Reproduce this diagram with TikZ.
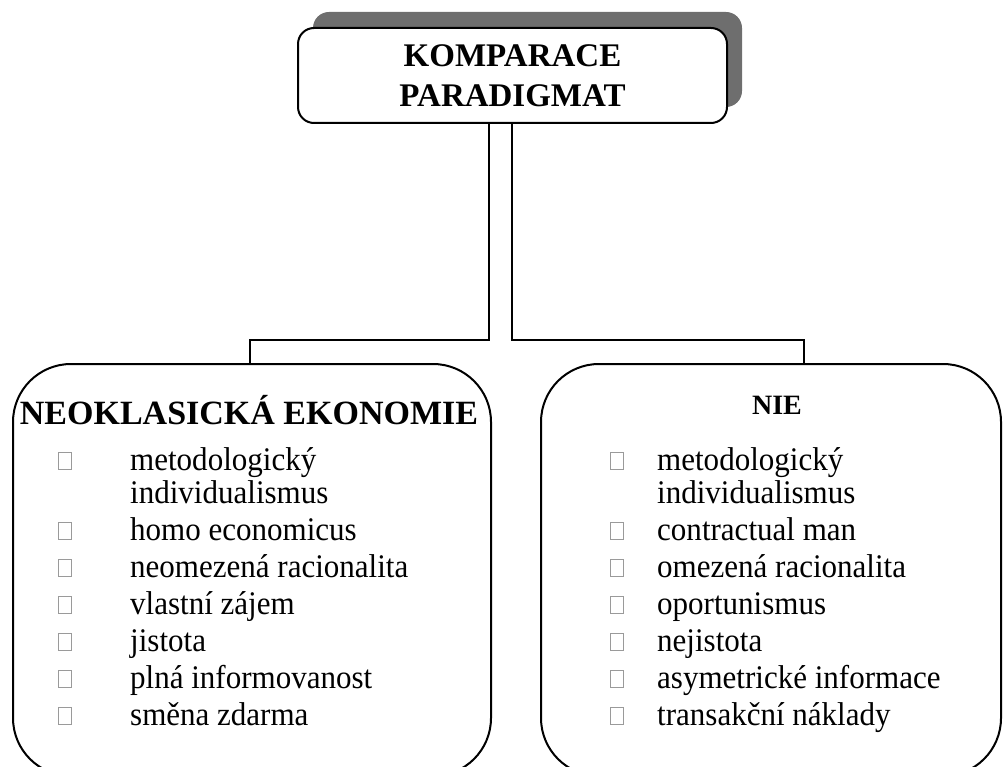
\documentclass[tikz,border=0pt]{standalone}
\usepackage{fontspec}
\setmainfont{Liberation Serif}
\newfontfamily\listfont[FakeStretch=0.94]{Liberation Serif}
\definecolor{shadowgray}{HTML}{6E6E6E}
\definecolor{bulletgray}{HTML}{9A9A9A}
\begin{document}
\begin{tikzpicture}[x=1pt,y=-1pt,
  frame/.style={draw=black, line width=2pt, rounded corners=58pt, inner sep=0pt},
  conn/.style={draw=black, line width=2pt},
  item/.style={anchor=base west, inner sep=0pt, font=\listfont\fontsize{33}{36}\selectfont},
  bul/.style={draw=bulletgray, line width=0.8pt, minimum width=13pt, minimum height=17pt, inner sep=0pt, anchor=south west},
  head/.style={font=\bfseries\fontsize{33}{40}\selectfont, align=center, inner sep=0pt}
]
\useasboundingbox (0,0) rectangle (1003,767);
\clip (0,0) rectangle (1003,767);
% top box with shadow
\fill[shadowgray, rounded corners=16pt] (313,12) rectangle (742,107);
\node[draw=black, line width=2pt, rounded corners=16pt, fill=white, minimum width=429pt, minimum height=95pt, head] (top) at (512.5,75.5) {KOMPARACE\\PARADIGMAT};
% lower boxes
\node[frame, minimum width=478pt, minimum height=412pt, anchor=north west] (neo) at (12,363) {};
\node[frame, minimum width=460pt, minimum height=412pt, anchor=north west] (nie) at (540,363) {};
% connectors
\coordinate (jl) at (489,340);
\coordinate (jr) at (512,340);
\draw[conn] (top.south -| jl) -- (jl) -| ([xshift=-2pt]neo.north);
\draw[conn] (top.south -| jr) -- (jr) -| ([xshift=33pt]nie.north);
% headings
\node[head, font=\bfseries\fontsize{34}{40}\selectfont] (neoh) at (249,410) {NEOKLASICKÁ EKONOMIE};
\node[head, font=\bfseries\fontsize{28}{32}\selectfont] (nieh) at (777,405) {NIE};
% left list
\foreach \n/\y/\t in {l1/470/metodologický, l3/540/homo economicus, l4/577/neomezená racionalita, l5/614/vlastní zájem, l6/651/jistota, l7/688/plná informovanost, l8/725/směna zdarma}{
  \node[bul] (b\n) at (58,\y) {};
  \node[item] (t\n) at (130,\y) {\t};
}
\node[item] (tl2) at (130,503) {individualismus};
% right list
\foreach \n/\y/\t in {r1/470/metodologický, r3/540/contractual man, r4/577/omezená racionalita, r5/614/oportunismus, r6/651/nejistota, r7/688/asymetrické informace, r8/725/transakční náklady}{
  \node[bul] (b\n) at (610,\y) {};
  \node[item] (t\n) at (657,\y) {\t};
}
\node[item] (tr2) at (657,503) {individualismus};
\end{tikzpicture}
\end{document}
